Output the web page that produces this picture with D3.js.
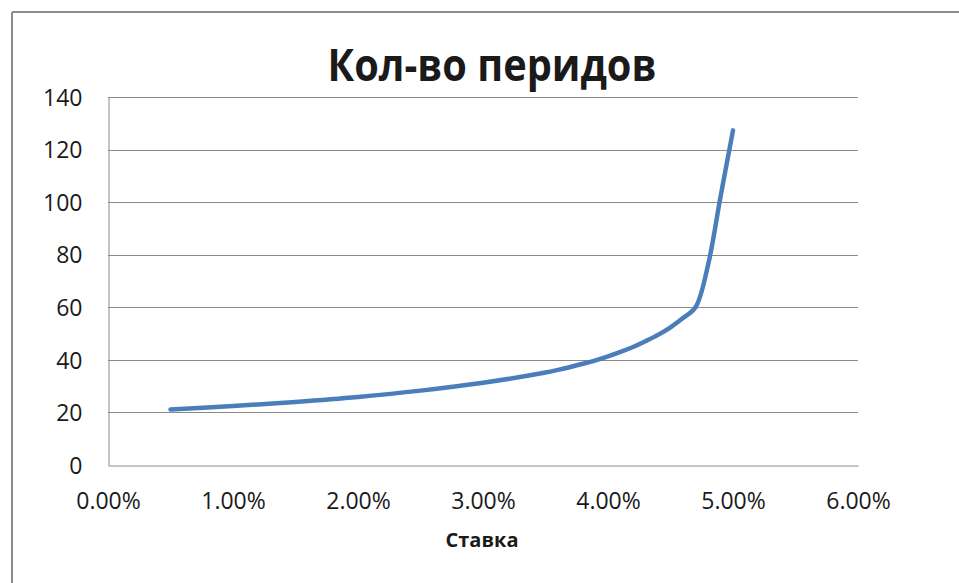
<!DOCTYPE html>
<html>
<head>
<meta charset="utf-8">
<script src="https://cdn.jsdelivr.net/npm/d3@7"></script>
<style>
  html, body { margin: 0; padding: 0; background: #fff; }
  svg { display: block; }
  text { font-family: "Open Sans", "DejaVu Sans", sans-serif; fill: #1a1a1a; }
</style>
</head>
<body>
<svg id="chart" width="959" height="583"></svg>
<script>
// Data
const rates = [0.005, 0.010, 0.015, 0.020, 0.025, 0.030, 0.035, 0.036, 0.037, 0.038, 0.039,
               0.040, 0.041, 0.042, 0.043, 0.044, 0.045, 0.046, 0.047, 0.048, 0.049, 0.050];
const periods = [21.1, 22.4, 24.0, 25.9, 28.3, 31.3, 35.2, 36.2, 37.3, 38.5, 39.8,
                 41.3, 43.0, 44.9, 47.1, 49.5, 52.4, 55.9, 60.0, 76.0, 102.0, 127.3];
const xTicks = [0, 0.01, 0.02, 0.03, 0.04, 0.05, 0.06];
const yTicks = [0, 20, 40, 60, 80, 100, 120, 140];
const titleText = "Кол-во перидов";
const xTitle = "Ставка";

const svg = d3.select("#chart");
const W = 959, H = 583;
const plot = { left: 108, right: 858, top: 97, bottom: 465 };

// outer chart border (top and left visible)
svg.append("line").attr("x1", 12).attr("x2", W).attr("y1", 12).attr("y2", 12)
  .attr("stroke", "#8c8c8c").attr("stroke-width", 2);
svg.append("line").attr("x1", 12).attr("x2", 12).attr("y1", 12).attr("y2", H)
  .attr("stroke", "#8c8c8c").attr("stroke-width", 2);

const x = d3.scaleLinear().domain([0, 0.06]).range([plot.left, plot.right]);
const y = d3.scaleLinear().domain([0, 140]).range([plot.bottom, plot.top]);

// gridlines
svg.append("g")
  .selectAll("line").data(yTicks.filter(d => d > 0)).join("line")
  .attr("x1", plot.left).attr("x2", plot.right)
  .attr("y1", d => Math.round(y(d)) + 0.5).attr("y2", d => Math.round(y(d)) + 0.5)
  .attr("stroke", "#8a8a8a").attr("stroke-width", 1);

// axes
const yAxis = d3.axisLeft(y).tickValues(yTicks).tickSize(0).tickPadding(26).tickFormat(d3.format("d"));
const gy = svg.append("g").attr("transform", `translate(${plot.left + 0.5},0)`).call(yAxis);
gy.select(".domain").attr("stroke", "#8a8a8a");
gy.selectAll("text").style("font-size", "23px").attr("fill", "#1a1a1a").attr("dy", "0.36em");

const xAxis = d3.axisBottom(x).tickValues(xTicks).tickSize(0).tickPadding(26).tickFormat(d3.format(".2%"));
const gx = svg.append("g").attr("transform", `translate(0,${Math.round(plot.bottom) + 0.5})`).call(xAxis);
gx.select(".domain").attr("stroke", "#8a8a8a");
gx.selectAll("text").style("font-size", "23px").attr("fill", "#1a1a1a").attr("dy", "0").attr("y", 43);

// line
const pts = rates.map((r, i) => [r, periods[i]]);
const line = d3.line().x(d => x(d[0])).y(d => y(d[1])).curve(d3.curveCatmullRom.alpha(0.5));
svg.append("path").datum(pts).attr("d", line)
  .attr("fill", "none").attr("stroke", "#4a7ebb").attr("stroke-width", 4.5)
  .attr("stroke-linecap", "round").attr("stroke-linejoin", "round");

// title
svg.append("text").attr("x", 492).attr("y", 81).attr("text-anchor", "middle")
  .style("font-size", "44px").style("font-weight", "bold")
  .attr("textLength", 329).attr("lengthAdjust", "spacingAndGlyphs")
  .text(titleText);

// x axis title
svg.append("text").attr("x", 482).attr("y", 547).attr("text-anchor", "middle")
  .style("font-size", "20px").style("font-weight", "bold")
  .text(xTitle);
</script>
</body>
</html>
